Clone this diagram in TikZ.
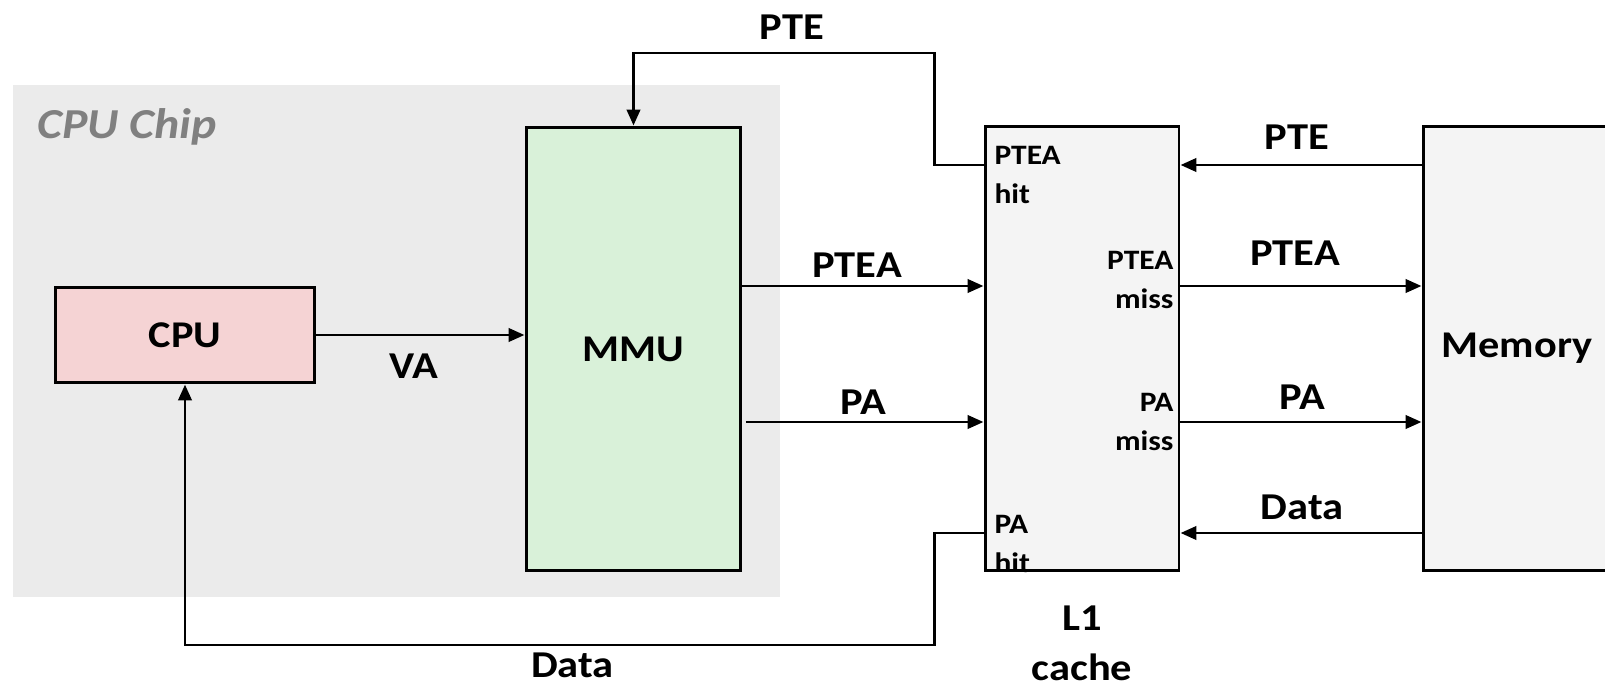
\documentclass[tikz,border=0pt]{standalone}
\usepackage{fontspec}
\setmainfont{Carlito}[FakeStretch=1.12]
\usetikzlibrary{arrows.meta}
\definecolor{chipbg}{HTML}{EBEBEB}
\definecolor{chiptext}{HTML}{808080}
\definecolor{cpufill}{HTML}{F5D3D4}
\definecolor{mmufill}{HTML}{D9F1D9}
\definecolor{cachefill}{HTML}{F4F4F4}
\begin{document}
\begin{tikzpicture}[x=0.02cm,y=-0.02cm,line width=1.7pt,
  >={Triangle[length=9pt,width=7.5pt]},
  unit/.style={draw,inner sep=0pt,font=\fontsize{21.5}{26}\selectfont\bfseries},
  sig/.style={font=\fontsize{21.6}{28.5}\selectfont\bfseries},
  port/.style={font=\fontsize{16}{22.2}\selectfont\bfseries,inner sep=0pt}]
\clip (0,0) rectangle (1605,689);
% chip area
\fill[chipbg] (13,85) rectangle (780,597);
\node (chip) at (36,138.5) [anchor=base west,inner sep=0pt,text=chiptext,
  font=\fontsize{24.3}{29}\selectfont\bfseries\itshape] {CPU Chip};
% units
\node (cpu) at (185,335)   [unit,fill=cpufill,minimum width=5.2cm,minimum height=1.92cm] {CPU};
\node (mmu) at (633.5,349) [unit,fill=mmufill,minimum width=4.3cm,minimum height=8.88cm] {MMU};
\node  (l1) at (1082,348.5) [unit,fill=cachefill,minimum width=3.88cm,minimum height=8.9cm] {};
\node (mem) at (1517,348.5) [unit,fill=cachefill,minimum width=3.76cm,minimum height=8.9cm] {Memory};
% ports of the cache
\node (ptehit)  at (993,145)  [port,anchor=north west,align=left]  {PTEA\\hit};
\node (pteamiss) at (1175,250) [port,anchor=north east,align=right] {PTEA\\miss};
\node (pamiss)  at (1175,392) [port,anchor=north east,align=right] {PA\\miss};
\node (pahit)   at (993,514)  [port,anchor=north west,align=left]  {PA\\hit};
% signal levels
\coordinate (pte)  at (0,165);
\coordinate (ptea) at (0,286);
\coordinate (pa)   at (0,422);
\coordinate (data) at (0,533);
\coordinate (top)  at (934,53);
\coordinate (bot)  at (934,645);
% connectors
\draw [->] (cpu.east) -- (cpu.east -| mmu.west);
\draw [->] (mmu.east |- ptea) -- (l1.west |- ptea);
\draw [->,shorten <=2pt] (mmu.east |- pa) -- (l1.west |- pa);
\draw [->] (l1.west |- pte) -- (top |- pte) -- (top) -- (top -| mmu.north) -- (mmu.north);
\draw [->] (l1.west |- data) -- (bot |- data) -- (bot) -- (bot -| cpu.south) -- (cpu.south);
\draw [->] (mem.west |- pte) -- (l1.east |- pte);
\draw [->] (l1.east |- ptea) -- (mem.west |- ptea);
\draw [->] (l1.east |- pa) -- (mem.west |- pa);
\draw [->] (mem.west |- data) -- (l1.east |- data);
% labels
\node (va)    at (414,366.5) [sig] {VA};
\node (pteup) at (792,27)   [sig] {PTE};
\node (pteal) at (857,265)  [sig] {PTEA};
\node (pal)   at (863,402)  [sig] {PA};
\node (datal) at (572.5,665) [sig] {Data};
\node (pter)  at (1297,137) [sig] {PTE};
\node (ptear) at (1295,253) [sig] {PTEA};
\node (par)   at (1302,397) [sig] {PA};
\node (datar) at (1302,507) [sig] {Data};
\node (l1lab) at (1082,604) [sig,anchor=north,align=center,inner sep=0pt] {L1\\cache};
\end{tikzpicture}
\end{document}
